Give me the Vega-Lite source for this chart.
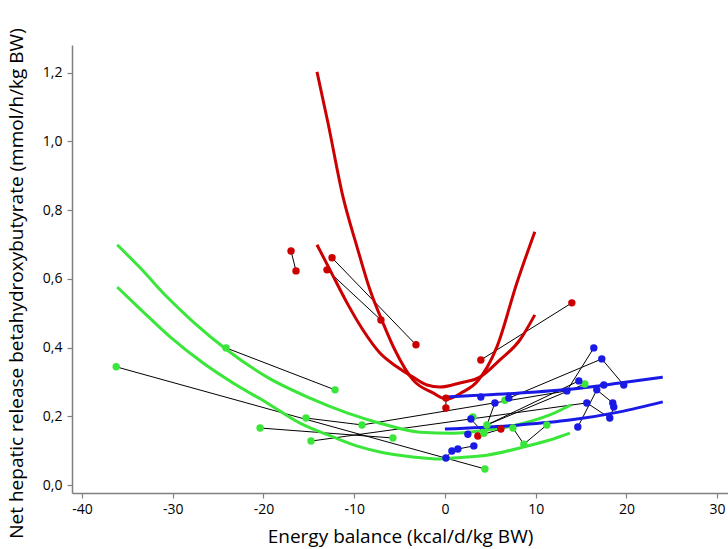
{
  "$schema": "https://vega.github.io/schema/vega-lite/v6.json",
  "width": 656,
  "height": 448,
  "autosize": "none",
  "padding": {"left": 72, "top": 45, "right": 0, "bottom": 56},
  "background": "white",
  "config": {
    "view": {"stroke": null},
    "font": "Open Sans",
    "axis": {
      "grid": false,
      "domainColor": "#808080",
      "domainWidth": 1.5,
      "tickColor": "#808080",
      "tickWidth": 1.2,
      "tickSize": 5,
      "labelFont": "Open Sans",
      "labelFontSize": 14,
      "labelColor": "#000000",
      "titleFont": "Open Sans",
      "titleFontSize": 19,
      "titleFontWeight": "normal",
      "titleColor": "#000000"
    }
  },
  "datasets": {
    "points": [
      {"x": -16.96, "y": 0.681, "grp": "red"},
      {"x": -16.41, "y": 0.623, "grp": "red"},
      {"x": -12.44, "y": 0.661, "grp": "red"},
      {"x": -3.19, "y": 0.408, "grp": "red"},
      {"x": -13.0, "y": 0.626, "grp": "red"},
      {"x": -7.05, "y": 0.48, "grp": "red"},
      {"x": 3.96, "y": 0.364, "grp": "red"},
      {"x": 13.99, "y": 0.53, "grp": "red"},
      {"x": 0.11, "y": 0.253, "grp": "red"},
      {"x": 0.11, "y": 0.224, "grp": "red"},
      {"x": 3.63, "y": 0.143, "grp": "red"},
      {"x": 6.17, "y": 0.163, "grp": "red"},
      {"x": -36.23, "y": 0.344, "grp": "green"},
      {"x": -24.12, "y": 0.399, "grp": "green"},
      {"x": -12.11, "y": 0.277, "grp": "green"},
      {"x": -15.31, "y": 0.195, "grp": "green"},
      {"x": -9.14, "y": 0.175, "grp": "green"},
      {"x": -20.37, "y": 0.166, "grp": "green"},
      {"x": -5.73, "y": 0.137, "grp": "green"},
      {"x": -14.76, "y": 0.128, "grp": "green"},
      {"x": 4.41, "y": 0.047, "grp": "green"},
      {"x": 3.08, "y": 0.198, "grp": "green"},
      {"x": 4.63, "y": 0.175, "grp": "green"},
      {"x": 4.3, "y": 0.151, "grp": "green"},
      {"x": 7.49, "y": 0.166, "grp": "green"},
      {"x": 8.7, "y": 0.119, "grp": "green"},
      {"x": 11.23, "y": 0.175, "grp": "green"},
      {"x": 6.61, "y": 0.247, "grp": "green"},
      {"x": 15.42, "y": 0.294, "grp": "green"},
      {"x": 3.96, "y": 0.256, "grp": "blue"},
      {"x": 5.51, "y": 0.239, "grp": "blue"},
      {"x": 7.05, "y": 0.253, "grp": "blue"},
      {"x": 2.86, "y": 0.192, "grp": "blue"},
      {"x": 2.53, "y": 0.148, "grp": "blue"},
      {"x": 0.77, "y": 0.099, "grp": "blue"},
      {"x": 1.43, "y": 0.105, "grp": "blue"},
      {"x": 3.19, "y": 0.114, "grp": "blue"},
      {"x": 0.11, "y": 0.079, "grp": "blue"},
      {"x": 16.41, "y": 0.399, "grp": "blue"},
      {"x": 17.29, "y": 0.367, "grp": "blue"},
      {"x": 14.76, "y": 0.303, "grp": "blue"},
      {"x": 13.44, "y": 0.274, "grp": "blue"},
      {"x": 16.74, "y": 0.277, "grp": "blue"},
      {"x": 17.51, "y": 0.291, "grp": "blue"},
      {"x": 19.71, "y": 0.291, "grp": "blue"},
      {"x": 15.64, "y": 0.239, "grp": "blue"},
      {"x": 18.5, "y": 0.239, "grp": "blue"},
      {"x": 18.61, "y": 0.227, "grp": "blue"},
      {"x": 18.17, "y": 0.195, "grp": "blue"},
      {"x": 14.65, "y": 0.169, "grp": "blue"}
    ],
    "links": [
      {"id": "L1", "x": -16.96, "y": 0.681}, {"id": "L1", "x": -16.41, "y": 0.623},
      {"id": "L2", "x": -12.44, "y": 0.661}, {"id": "L2", "x": -3.19, "y": 0.408},
      {"id": "L3", "x": -13.0, "y": 0.626}, {"id": "L3", "x": -7.05, "y": 0.48},
      {"id": "L4", "x": 3.96, "y": 0.364}, {"id": "L4", "x": 13.99, "y": 0.53},
      {"id": "L5", "x": 0.11, "y": 0.253}, {"id": "L5", "x": 0.11, "y": 0.224},
      {"id": "L6", "x": 3.63, "y": 0.143}, {"id": "L6", "x": 6.17, "y": 0.163},
      {"id": "L7", "x": -24.12, "y": 0.399}, {"id": "L7", "x": -12.11, "y": 0.277},
      {"id": "L8", "x": -36.23, "y": 0.344}, {"id": "L8", "x": 4.41, "y": 0.047},
      {"id": "L9", "x": -15.31, "y": 0.195}, {"id": "L9", "x": -9.14, "y": 0.175}, {"id": "L9", "x": 13.44, "y": 0.274}, {"id": "L9", "x": 16.41, "y": 0.399},
      {"id": "L12", "x": -20.37, "y": 0.166}, {"id": "L12", "x": -5.73, "y": 0.137},
      {"id": "L13", "x": -14.76, "y": 0.128}, {"id": "L13", "x": 15.64, "y": 0.239},
      {"id": "L14", "x": 4.63, "y": 0.175}, {"id": "L14", "x": 14.76, "y": 0.303},
      {"id": "L15", "x": 4.63, "y": 0.175}, {"id": "L15", "x": 15.42, "y": 0.294},
      {"id": "L16", "x": 4.63, "y": 0.175}, {"id": "L16", "x": 5.51, "y": 0.239},
      {"id": "L17", "x": 2.86, "y": 0.192}, {"id": "L17", "x": 4.3, "y": 0.151},
      {"id": "L18", "x": 7.49, "y": 0.166}, {"id": "L18", "x": 8.7, "y": 0.119}, {"id": "L18", "x": 11.23, "y": 0.175},
      {"id": "L20", "x": 0.11, "y": 0.079}, {"id": "L20", "x": 0.77, "y": 0.099},
      {"id": "L21", "x": 1.43, "y": 0.105}, {"id": "L21", "x": 3.19, "y": 0.114},
      {"id": "L22", "x": 7.05, "y": 0.253}, {"id": "L22", "x": 17.29, "y": 0.367}, {"id": "L22", "x": 19.71, "y": 0.291},
      {"id": "L24", "x": 16.74, "y": 0.277}, {"id": "L24", "x": 18.5, "y": 0.239},
      {"id": "L25", "x": 14.65, "y": 0.169}, {"id": "L25", "x": 16.74, "y": 0.277},
      {"id": "L26", "x": 15.64, "y": 0.239}, {"id": "L26", "x": 18.17, "y": 0.195}, {"id": "L26", "x": 18.61, "y": 0.227}
    ],
    "curves": [
      {"c": "RA", "grp": "red", "x": -14.1, "y": 1.202},
      {"c": "RA", "grp": "red", "x": -12.89, "y": 1.054},
      {"c": "RA", "grp": "red", "x": -11.23, "y": 0.838},
      {"c": "RA", "grp": "red", "x": -9.69, "y": 0.693},
      {"c": "RA", "grp": "red", "x": -8.26, "y": 0.568},
      {"c": "RA", "grp": "red", "x": -6.83, "y": 0.472},
      {"c": "RA", "grp": "red", "x": -5.51, "y": 0.393},
      {"c": "RA", "grp": "red", "x": -3.52, "y": 0.306},
      {"c": "RA", "grp": "red", "x": -1.32, "y": 0.268},
      {"c": "RA", "grp": "red", "x": 0.22, "y": 0.25},
      {"c": "RA", "grp": "red", "x": 1.98, "y": 0.271},
      {"c": "RA", "grp": "red", "x": 3.52, "y": 0.3},
      {"c": "RA", "grp": "red", "x": 5.73, "y": 0.402},
      {"c": "RA", "grp": "red", "x": 7.93, "y": 0.588},
      {"c": "RA", "grp": "red", "x": 9.91, "y": 0.737},
      {"c": "RB", "grp": "red", "x": -14.1, "y": 0.699},
      {"c": "RB", "grp": "red", "x": -12.67, "y": 0.626},
      {"c": "RB", "grp": "red", "x": -10.79, "y": 0.53},
      {"c": "RB", "grp": "red", "x": -9.03, "y": 0.451},
      {"c": "RB", "grp": "red", "x": -7.16, "y": 0.384},
      {"c": "RB", "grp": "red", "x": -5.29, "y": 0.344},
      {"c": "RB", "grp": "red", "x": -3.52, "y": 0.314},
      {"c": "RB", "grp": "red", "x": -1.98, "y": 0.291},
      {"c": "RB", "grp": "red", "x": -0.55, "y": 0.285},
      {"c": "RB", "grp": "red", "x": 1.65, "y": 0.297},
      {"c": "RB", "grp": "red", "x": 3.85, "y": 0.314},
      {"c": "RB", "grp": "red", "x": 6.06, "y": 0.364},
      {"c": "RB", "grp": "red", "x": 8.26, "y": 0.422},
      {"c": "RB", "grp": "red", "x": 9.91, "y": 0.495},
      {"c": "GA", "grp": "green", "x": -36.12, "y": 0.699},
      {"c": "GA", "grp": "green", "x": -33.59, "y": 0.632},
      {"c": "GA", "grp": "green", "x": -30.62, "y": 0.547},
      {"c": "GA", "grp": "green", "x": -27.75, "y": 0.475},
      {"c": "GA", "grp": "green", "x": -24.01, "y": 0.393},
      {"c": "GA", "grp": "green", "x": -19.6, "y": 0.314},
      {"c": "GA", "grp": "green", "x": -14.87, "y": 0.253},
      {"c": "GA", "grp": "green", "x": -10.79, "y": 0.21},
      {"c": "GA", "grp": "green", "x": -7.16, "y": 0.18},
      {"c": "GA", "grp": "green", "x": -2.75, "y": 0.154},
      {"c": "GA", "grp": "green", "x": 0.88, "y": 0.151},
      {"c": "GA", "grp": "green", "x": 4.63, "y": 0.16},
      {"c": "GA", "grp": "green", "x": 7.93, "y": 0.175},
      {"c": "GA", "grp": "green", "x": 11.56, "y": 0.204},
      {"c": "GA", "grp": "green", "x": 13.88, "y": 0.233},
      {"c": "GB", "grp": "green", "x": -36.12, "y": 0.576},
      {"c": "GB", "grp": "green", "x": -33.26, "y": 0.504},
      {"c": "GB", "grp": "green", "x": -30.29, "y": 0.431},
      {"c": "GB", "grp": "green", "x": -26.65, "y": 0.355},
      {"c": "GB", "grp": "green", "x": -23.35, "y": 0.297},
      {"c": "GB", "grp": "green", "x": -19.6, "y": 0.239},
      {"c": "GB", "grp": "green", "x": -15.97, "y": 0.18},
      {"c": "GB", "grp": "green", "x": -12.33, "y": 0.14},
      {"c": "GB", "grp": "green", "x": -9.36, "y": 0.111},
      {"c": "GB", "grp": "green", "x": -7.16, "y": 0.096},
      {"c": "GB", "grp": "green", "x": -3.52, "y": 0.082},
      {"c": "GB", "grp": "green", "x": -0.55, "y": 0.076},
      {"c": "GB", "grp": "green", "x": 0.88, "y": 0.079},
      {"c": "GB", "grp": "green", "x": 4.63, "y": 0.087},
      {"c": "GB", "grp": "green", "x": 8.26, "y": 0.108},
      {"c": "GB", "grp": "green", "x": 11.56, "y": 0.131},
      {"c": "GB", "grp": "green", "x": 13.77, "y": 0.151},
      {"c": "BA", "grp": "blue", "x": 0.0, "y": 0.256},
      {"c": "BA", "grp": "blue", "x": 8.26, "y": 0.268},
      {"c": "BA", "grp": "blue", "x": 14.87, "y": 0.282},
      {"c": "BA", "grp": "blue", "x": 19.27, "y": 0.297},
      {"c": "BA", "grp": "blue", "x": 24.01, "y": 0.314},
      {"c": "BB", "grp": "blue", "x": 0.0, "y": 0.163},
      {"c": "BB", "grp": "blue", "x": 8.26, "y": 0.175},
      {"c": "BB", "grp": "blue", "x": 13.77, "y": 0.189},
      {"c": "BB", "grp": "blue", "x": 19.27, "y": 0.213},
      {"c": "BB", "grp": "blue", "x": 24.01, "y": 0.242}
    ]
  },
  "encoding": {
    "x": {
      "field": "x", "type": "quantitative",
      "scale": {"domain": [-41.1, 31.2], "nice": false, "zero": false},
      "axis": {"values": [-40, -30, -20, -10, 0, 10, 20, 30], "labelExpr": "datum.value < 0 ? '-' + abs(datum.value) : '' + datum.value", "title": "Energy balance (kcal/d/kg BW)", "labelPadding": 4, "titlePadding": 11}
    },
    "y": {
      "field": "y", "type": "quantitative",
      "scale": {"domain": [-0.023, 1.28], "nice": false, "zero": false},
      "axis": {"values": [0, 0.2, 0.4, 0.6, 0.8, 1.0, 1.2], "labelExpr": "replace(format(datum.value, '.1f'), '.', ',')", "title": "Net hepatic release betahydroxybutyrate (mmol/h/kg BW)", "titleFontSize": 19, "titleY": 238, "labelPadding": 5, "titlePadding": 16}
    }
  },
  "layer": [
    {
      "data": {"name": "links"},
      "mark": {"type": "line", "color": "#000000", "strokeWidth": 1},
      "encoding": {"detail": {"field": "id", "type": "nominal"}}
    },
    {
      "data": {"name": "curves"},
      "mark": {"type": "line", "strokeWidth": 3, "interpolate": "monotone"},
      "encoding": {
        "detail": {"field": "c", "type": "nominal"},
        "color": {"field": "grp", "type": "nominal", "scale": {"domain": ["red", "green", "blue"], "range": ["#cc0000", "#3ae63a", "#1a1ae6"]}, "legend": null}
      }
    },
    {
      "data": {"name": "points"},
      "mark": {"type": "circle", "size": 55, "opacity": 1},
      "encoding": {
        "color": {"field": "grp", "type": "nominal", "scale": {"domain": ["red", "green", "blue"], "range": ["#cc0000", "#3ae63a", "#1a1ae6"]}, "legend": null}
      }
    }
  ]
}
